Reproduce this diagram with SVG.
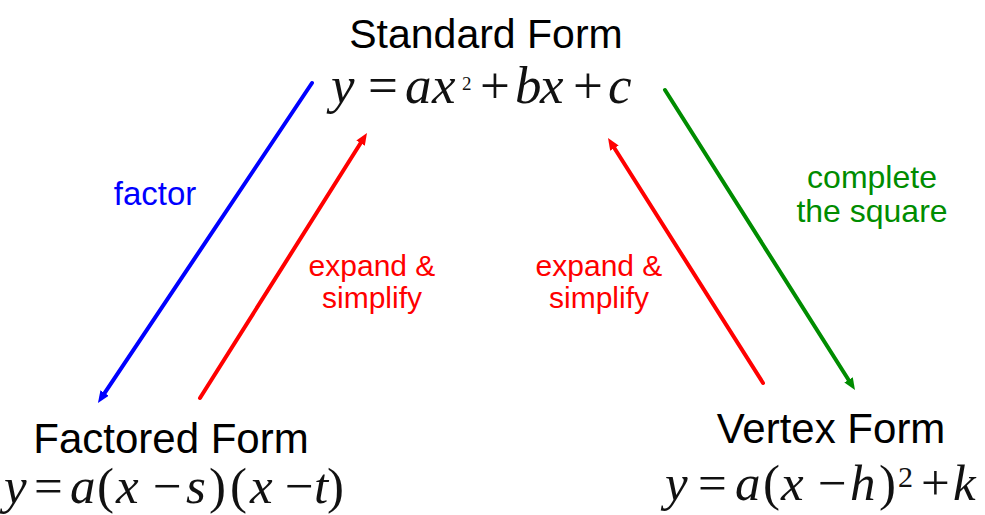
<svg xmlns="http://www.w3.org/2000/svg" width="985" height="515" viewBox="0 0 985 515">
<style>
.title{font-family:"Liberation Sans",Arial,sans-serif;font-size:42px;fill:#000;text-anchor:middle}
.lbl{font-family:"Liberation Sans",Arial,sans-serif;font-size:30px;text-anchor:middle}
.math{font-family:"Liberation Serif","Times New Roman",serif;font-size:51px;fill:#111}
.it{font-style:italic}
.conn{fill:none;stroke-width:4;stroke-linecap:round}
</style>
<defs>
<marker id="ab" markerUnits="userSpaceOnUse" markerWidth="12" markerHeight="10" refX="4" refY="5" orient="auto"><path d="M0,0 L12,5 L0,10 z" fill="#0000ff"/></marker>
<marker id="ar" markerUnits="userSpaceOnUse" markerWidth="12" markerHeight="10" refX="4" refY="5" orient="auto"><path d="M0,0 L12,5 L0,10 z" fill="#ff0000"/></marker>
<marker id="ag" markerUnits="userSpaceOnUse" markerWidth="12" markerHeight="10" refX="4" refY="5" orient="auto"><path d="M0,0 L12,5 L0,10 z" fill="#008c00"/></marker>
</defs>
<g id="standard">
<text class="title" x="486" y="48" style="font-size:41px">Standard Form</text>
<text class="math" y="103" style="font-size:53px"><tspan class="it" x="331">y</tspan><tspan x="368">=</tspan><tspan class="it" x="405">a</tspan><tspan class="it" x="432">x</tspan><tspan x="462" y="90" style="font-size:19px">2</tspan><tspan x="480" y="103">+</tspan><tspan class="it" x="515">b</tspan><tspan class="it" x="540">x</tspan><tspan x="573">+</tspan><tspan class="it" x="608">c</tspan></text>
</g>
<g id="factored">
<text class="title" x="171" y="453">Factored Form</text>
<text class="math" y="503"><tspan class="it" x="4">y</tspan><tspan x="34">=</tspan><tspan class="it" x="70">a</tspan><tspan x="97">(</tspan><tspan class="it" x="116">x</tspan><tspan x="153">−</tspan><tspan class="it" x="186">s</tspan><tspan x="209">)</tspan><tspan x="230">(</tspan><tspan class="it" x="250">x</tspan><tspan x="285">−</tspan><tspan class="it" x="314">t</tspan><tspan x="327">)</tspan></text>
</g>
<g id="vertex">
<text class="title" x="831" y="443">Vertex Form</text>
<text class="math" y="500"><tspan class="it" x="665">y</tspan><tspan x="698">=</tspan><tspan class="it" x="735">a</tspan><tspan x="763">(</tspan><tspan class="it" x="781">x</tspan><tspan x="818">−</tspan><tspan class="it" x="850">h</tspan><tspan x="879">)</tspan><tspan x="898" y="487" style="font-size:30px">2</tspan><tspan x="921" y="500">+</tspan><tspan class="it" x="953">k</tspan></text>
</g>
<g id="connectors">
<path class="conn" stroke="#0000ff" d="M312,83 L102.4,396.4" marker-end="url(#ab)"/>
<path class="conn" stroke="#ff0000" d="M200,398 L362.7,139.8" marker-end="url(#ar)"/>
<path class="conn" stroke="#ff0000" d="M763,383 L612.3,144.8" marker-end="url(#ar)"/>
<path class="conn" stroke="#008c00" d="M665,90 L850.7,383.2" marker-end="url(#ag)"/>
<text class="lbl" x="155" y="205" fill="#0000ff" style="font-size:33px">factor</text>
<text class="lbl" fill="#ff0000"><tspan x="372" y="276">expand &amp;</tspan><tspan x="372" y="308">simplify</tspan></text>
<text class="lbl" fill="#ff0000"><tspan x="599" y="276">expand &amp;</tspan><tspan x="599" y="308">simplify</tspan></text>
<text class="lbl" fill="#008c00" style="font-size:32px"><tspan x="872" y="188">complete</tspan><tspan x="872" y="222">the square</tspan></text>
</g>
</svg>
